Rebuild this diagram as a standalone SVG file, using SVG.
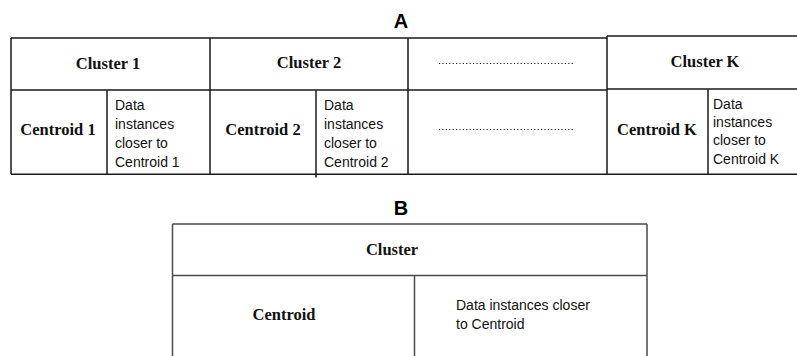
<svg xmlns="http://www.w3.org/2000/svg" width="797" height="356" viewBox="0 0 797 356">
  <style>
    .ln { stroke: #1a1a1a; stroke-width: 1.5; fill: none; }
    .lnb { stroke: #4a4a4a; stroke-width: 1.5; fill: none; }
    .dot { stroke: #222; stroke-width: 1.2; stroke-dasharray: 1.2 2.2; fill: none; }
    .hdr { font-family: "Liberation Serif", "Times New Roman", serif; font-weight: bold; font-size: 16.5px; fill: #111; text-anchor: middle; }
    .body { font-family: "Liberation Sans", Arial, sans-serif; font-size: 14px; fill: #111; }
    .title { font-family: "Liberation Sans", Arial, sans-serif; font-weight: bold; font-size: 20px; fill: #000; text-anchor: middle; }
  </style>
  <rect width="797" height="356" fill="#fff"/>

  <text class="title" x="401" y="28">A</text>
  <text class="title" x="401" y="215">B</text>

  <!-- Panel A: K clusters side by side -->
  <g id="connectors">
    <path class="ln" d="M11 38 H607 M607 36 H797 M11 90 H607 M607 89 H797 M11 174.3 H797"/>
    <path class="ln" d="M11 38 V174.3 M210 38 V174.3 M408 38 V174.3 M607 36 V174.3"/>
  </g>

  <g id="cluster1">
    <text class="hdr" x="108" y="69">Cluster 1</text>
    <path class="ln" d="M107 90 V174.3"/>
    <text class="hdr" x="58" y="135">Centroid 1</text>
    <text class="body" x="115"><tspan x="115" y="110">Data</tspan><tspan x="115" y="129">instances</tspan><tspan x="115" y="148">closer to</tspan><tspan x="115" y="167">Centroid 1</tspan></text>
  </g>

  <g id="cluster2">
    <text class="hdr" x="309" y="68">Cluster 2</text>
    <path class="ln" d="M316 90 V177.5"/>
    <text class="hdr" x="263" y="135">Centroid 2</text>
    <text class="body" x="324"><tspan x="324" y="110">Data</tspan><tspan x="324" y="129">instances</tspan><tspan x="324" y="148">closer  to</tspan><tspan x="324" y="167">Centroid 2</tspan></text>
  </g>

  <g id="ellipsis">
    <path class="dot" d="M439 63.5 H575 M439 129.5 H575"/>
  </g>

  <g id="clusterK">
    <text class="hdr" x="705" y="67">Cluster K</text>
    <path class="ln" d="M708 89 V174.3"/>
    <text class="hdr" x="657" y="135">Centroid K</text>
    <text class="body" x="713"><tspan x="713" y="109">Data</tspan><tspan x="713" y="127">instances</tspan><tspan x="713" y="145">closer to</tspan><tspan x="713" y="164">Centroid K</tspan></text>
  </g>

  <!-- Panel B: single cluster -->
  <g id="cluster">
    <path class="lnb" d="M172.5 224 H647 M172.5 275.5 H647 M172.5 224 V356 M647 224 V356 M414.5 275.5 V356"/>
    <text class="hdr" x="392" y="255">Cluster</text>
    <text class="hdr" x="284" y="320">Centroid</text>
    <text class="body"><tspan x="456" y="310">Data instances closer</tspan><tspan x="456" y="329">to Centroid</tspan></text>
  </g>
</svg>
